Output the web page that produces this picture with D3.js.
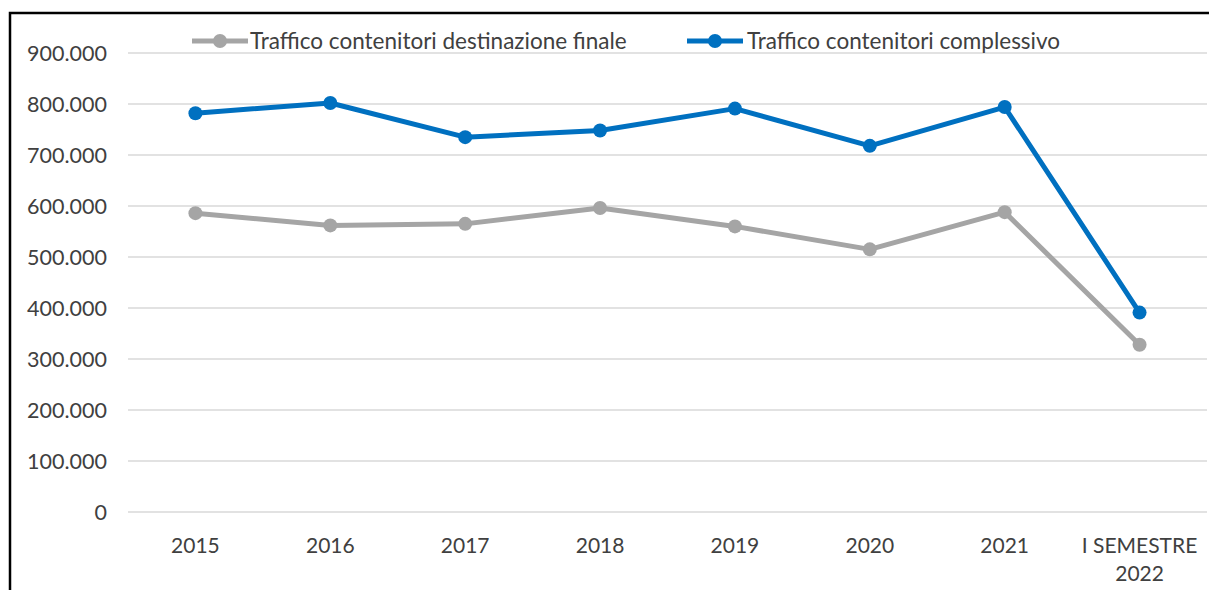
<!DOCTYPE html>
<html>
<head>
<meta charset="utf-8">
<script src="https://cdn.jsdelivr.net/npm/d3@7"></script>
<style>
  body { margin: 0; background: #fff; }
  text { font-family: Lato, "Open Sans", sans-serif; fill: #404040; }
</style>
</head>
<body>
<div id="chart"></div>
<script>
// values
let categories = ["2015", "2016", "2017", "2018", "2019", "2020", "2021", "I SEMESTRE 2022"];
let destinazioneFinale = [585000, 561000, 564000, 595000, 559000, 514000, 587000, 327000];
let complessivo = [781000, 801000, 734000, 747000, 790000, 717000, 793000, 390000];
let yTicks = [0, 100000, 200000, 300000, 400000, 500000, 600000, 700000, 800000, 900000];
let seriesNames = ["Traffico contenitori destinazione finale", "Traffico contenitori complessivo"];
let seriesColors = ["#A5A5A5", "#0070C0"];

let w = 1209;
let h = 590;

let svg = d3
  .select("#chart")
  .append("svg")
  .attr("width", w)
  .attr("height", h);

// frame (only left and top edges are visible in the crop)
svg
  .append("rect")
  .attr("x", 10)
  .attr("y", 13)
  .attr("width", w + 20)
  .attr("height", h + 20)
  .attr("fill", "none")
  .attr("stroke", "#000")
  .attr("stroke-width", 2.5);

let x = d3
  .scaleBand()
  .domain(categories)
  .range([128, 1207]);

let y = d3
  .scaleLinear()
  .domain([0, 900000])
  .range([511.5, 52.5]);

let it = d3.formatLocale({
  decimal: ",",
  thousands: ".",
  grouping: [3],
  currency: ["€", ""]
});
let fmt = it.format(",");

// gridlines
let yAxis = d3
  .axisLeft(y)
  .tickValues(yTicks)
  .tickSize(-(1207 - 128))
  .tickPadding(21)
  .tickFormat(fmt);

let gy = svg
  .append("g")
  .attr("transform", "translate(128,0)")
  .call(yAxis);
gy.select(".domain").remove();
gy.selectAll("line").attr("stroke", "#d9d9d9").attr("stroke-width", 1.5);
gy.selectAll("text")
  .attr("font-size", 21.5)
  .attr("dy", "0.36em")
  .style("font-family", "Lato, sans-serif")
  .attr("fill", "#404040");

// x labels (wrap the last one)
let xAxis = d3.axisBottom(x).tickSize(0).tickPadding(0);
let gx = svg
  .append("g")
  .attr("transform", "translate(0,511.5)")
  .call(xAxis);
gx.select(".domain").remove();
gx.selectAll("text").each(function(d) {
  let t = d3.select(this);
  t.text(null)
    .attr("y", 0)
    .attr("dy", null)
    .attr("font-size", 21)
    .attr("fill", "#404040")
    .style("font-family", "Lato, sans-serif");
  let words = d == "I SEMESTRE 2022" ? ["I SEMESTRE", "2022"] : [d];
  words.forEach(function(wd, i) {
    t.append("tspan")
      .attr("x", 0)
      .attr("y", 41 + i * 28)
      .text(wd);
  });
});

let line = d3
  .line()
  .x(function(d, i) {
    return x(categories[i]) + x.bandwidth() / 2;
  })
  .y(function(d) {
    return y(d);
  });

let allSeries = [destinazioneFinale, complessivo];

allSeries.forEach(function(vals, s) {
  let g = svg.append("g");
  g.append("path")
    .datum(vals)
    .attr("d", line)
    .attr("fill", "none")
    .attr("stroke", seriesColors[s])
    .attr("stroke-width", 5)
    .attr("stroke-linejoin", "round");
  g.selectAll("circle")
    .data(vals)
    .enter()
    .append("circle")
    .attr("cx", function(d, i) {
      return x(categories[i]) + x.bandwidth() / 2;
    })
    .attr("cy", function(d) {
      return y(d);
    })
    .attr("r", 7)
    .attr("fill", seriesColors[s]);
});

// legend
let legendX = [192, 687];
let legend = svg
  .append("g")
  .selectAll("g")
  .data(seriesNames)
  .enter()
  .append("g")
  .attr("transform", function(d, i) {
    return "translate(" + legendX[i] + ",41)";
  });
legend
  .append("line")
  .attr("x1", 0)
  .attr("x2", 56)
  .attr("stroke", function(d, i) {
    return seriesColors[i];
  })
  .attr("stroke-width", 5);
legend
  .append("circle")
  .attr("cx", 28)
  .attr("r", 7)
  .attr("fill", function(d, i) {
    return seriesColors[i];
  });
legend
  .append("text")
  .attr("x", function(d, i) {
    return i == 0 ? 58 : 60;
  })
  .attr("dy", "0.36em")
  .attr("font-size", 22.5)
  .attr("fill", "#404040")
  .text(function(d) {
    return d;
  });
</script>
</body>
</html>
